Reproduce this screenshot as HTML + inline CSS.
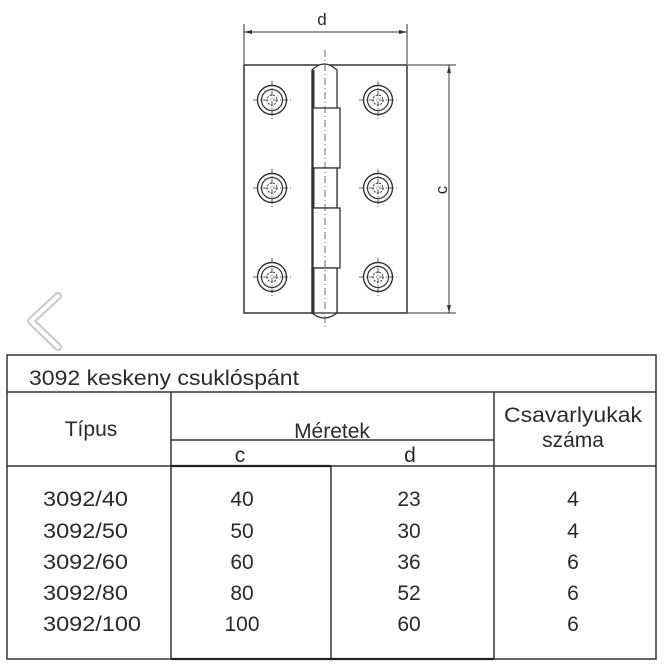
<!DOCTYPE html>
<html><head><meta charset="utf-8"><style>
html,body{margin:0;padding:0;background:#fff;}
svg{display:block}
text{font-family:"Liberation Sans",sans-serif;fill:#2a2a2a}
</style></head><body>
<svg width="664" height="669" viewBox="0 0 664 669" xmlns="http://www.w3.org/2000/svg">
<defs>
<g id="hole" fill="none" stroke="#333">
<circle r="14.5" stroke-width="1.4"/>
<circle r="10.5" stroke-width="1.2"/>
<circle r="5" stroke-width="1" stroke-dasharray="2 1.5"/>
<line x1="-19" y1="0" x2="19" y2="0" stroke-width="0.8" stroke-dasharray="5 2 1 2"/>
<line x1="0" y1="-19" x2="0" y2="19" stroke-width="0.8" stroke-dasharray="5 2 1 2"/>
</g>
</defs>
<g stroke="#333" fill="none" stroke-width="1">
<line x1="244" y1="24" x2="244" y2="64"/>
<line x1="407" y1="24" x2="407" y2="64"/>
<line x1="244" y1="32" x2="407" y2="32"/>
<line x1="408" y1="65" x2="456" y2="65"/>
<line x1="408" y1="313" x2="456" y2="313"/>
<line x1="449" y1="65" x2="449" y2="313"/>
</g>
<polygon points="244,32 252,30 252,34" fill="#333"/>
<polygon points="407,32 399,30 399,34" fill="#333"/>
<polygon points="449,65 447,73 451,73" fill="#333"/>
<polygon points="449,313 447,305 451,305" fill="#333"/>
<text x="322" y="25" font-size="17" text-anchor="middle">d</text>
<text x="0" y="0" font-size="17" text-anchor="middle" transform="translate(447,190) rotate(-90)">c</text>
<rect x="244" y="65" width="163" height="248" fill="none" stroke="#333" stroke-width="1.5"/>
<g stroke="#333" fill="#fff" stroke-width="1.3">
<path d="M312,313 L312,70 Q324,58 337,70 L337,313 Q324,323 312,313 Z"/>
<rect x="313" y="108" width="27" height="60"/>
<rect x="312" y="168" width="25" height="40"/>
<rect x="313" y="208" width="27" height="60"/>
<rect x="312" y="268" width="25" height="45"/>
</g>
<line x1="313.5" y1="70" x2="313.5" y2="108" stroke="#333" stroke-width="2"/>
<line x1="313.5" y1="168" x2="313.5" y2="208" stroke="#333" stroke-width="2"/>
<line x1="313.5" y1="268" x2="313.5" y2="313" stroke="#333" stroke-width="2"/>
<line x1="325" y1="50" x2="325" y2="330" stroke="#444" stroke-width="0.8" stroke-dasharray="7 3 1 3"/>
<use href="#hole" x="272" y="100"/>
<use href="#hole" x="378" y="100"/>
<use href="#hole" x="272" y="188"/>
<use href="#hole" x="378" y="188"/>
<use href="#hole" x="272" y="277"/>
<use href="#hole" x="378" y="277"/>
<polyline points="58,296 31,321 58,347" fill="none" stroke="#999" stroke-width="8" stroke-linecap="round" stroke-linejoin="round" opacity="0.55"/>
<polyline points="58,296 31,321 58,347" fill="none" stroke="#fff" stroke-width="4" stroke-linecap="round" stroke-linejoin="round"/>
<g stroke="#333" fill="none" stroke-width="1.5">
<rect x="7" y="355" width="649" height="304"/>
<line x1="7" y1="392" x2="656" y2="392"/>
<line x1="7" y1="466" x2="656" y2="466"/>
<line x1="171" y1="392" x2="171" y2="659"/>
<line x1="494" y1="392" x2="494" y2="659"/>
<line x1="171" y1="440" x2="494" y2="440"/>
<line x1="331" y1="466" x2="331" y2="659"/>
</g>
<line x1="171" y1="466" x2="331" y2="466" stroke="#222" stroke-width="2.2"/>
<line x1="171" y1="659" x2="494" y2="659" stroke="#222" stroke-width="2.2"/>
<text x="29" y="385" font-size="21" textLength="270" lengthAdjust="spacingAndGlyphs">3092 keskeny csuklóspánt</text>
<text x="91" y="436" font-size="21" text-anchor="middle">Típus</text>
<text x="332" y="438" font-size="21" text-anchor="middle">Méretek</text>
<text x="240" y="462" font-size="21" text-anchor="middle">c</text>
<text x="410" y="462" font-size="21" text-anchor="middle">d</text>
<text x="504" y="422" font-size="21" textLength="138" lengthAdjust="spacingAndGlyphs">Csavarlyukak</text>
<text x="573" y="447" font-size="21" text-anchor="middle">száma</text>
<g font-size="21">
<text x="43" y="506" textLength="85" lengthAdjust="spacingAndGlyphs">3092/40</text>
<text x="43" y="538" textLength="85" lengthAdjust="spacingAndGlyphs">3092/50</text>
<text x="43" y="569" textLength="85" lengthAdjust="spacingAndGlyphs">3092/60</text>
<text x="43" y="600" textLength="85" lengthAdjust="spacingAndGlyphs">3092/80</text>
<text x="43" y="631" textLength="98" lengthAdjust="spacingAndGlyphs">3092/100</text>
</g>
<g font-size="21" text-anchor="middle">
<text x="242" y="506">40</text><text x="242" y="538">50</text><text x="242" y="569">60</text><text x="242" y="600">80</text><text x="242" y="631">100</text>
<text x="409" y="506">23</text><text x="409" y="538">30</text><text x="409" y="569">36</text><text x="409" y="600">52</text><text x="409" y="631">60</text>
<text x="573" y="506">4</text><text x="573" y="538">4</text><text x="573" y="569">6</text><text x="573" y="600">6</text><text x="573" y="631">6</text>
</g>
</svg>
</body></html>
